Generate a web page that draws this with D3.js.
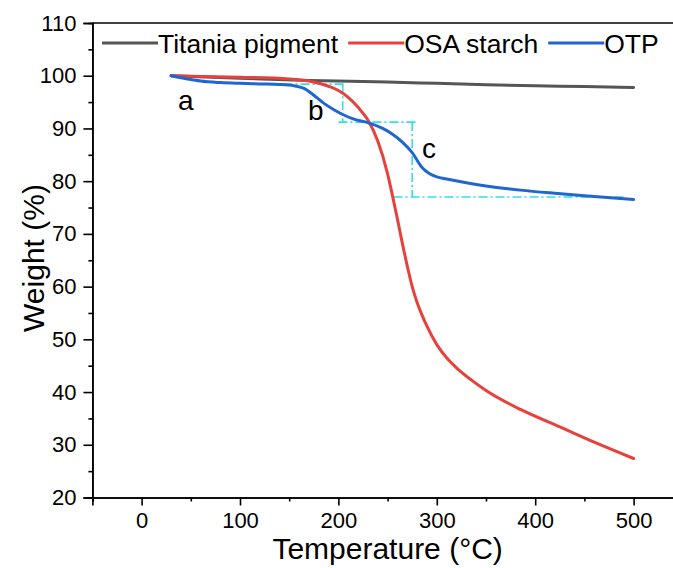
<!DOCTYPE html>
<html>
<head>
<meta charset="utf-8">
<script src="https://cdn.jsdelivr.net/npm/d3@7"></script>
<style>
  html, body { margin: 0; padding: 0; background: #fff; }
  svg { display: block; font-family: "Liberation Sans", Arial, sans-serif; }
</style>
</head>
<body>
<svg id="chart" width="673" height="568"></svg>
<script>
// ---- data ----
const seriesNames = ["Titania pigment", "OSA starch", "OTP"];
const seriesColors = ["#555555", "#e8403d", "#1f66d2"];

const titaniaT = [30, 100, 170, 250, 300, 350, 400, 450, 500];
const titaniaW = [100, 99.5, 99.1, 98.8, 98.55, 98.3, 98.1, 97.95, 97.75];

const osaT = [30, 50, 100, 150, 170, 190, 200, 210, 220, 230, 240, 250, 255, 260, 265, 270, 275, 280, 285, 290, 300, 310, 320, 335, 350, 385, 425, 460, 500];
const osaW = [100, 99.9, 99.7, 99.4, 99.0, 98.0, 97.2, 95.9, 94.0, 91.6, 87.6, 81.4, 77.2, 72.8, 68.2, 63.9, 60.0, 57.0, 54.6, 52.5, 49.0, 46.5, 44.6, 42.3, 40.3, 36.7, 33.4, 30.5, 27.4];

const otpT = [30, 40, 50, 60, 80, 100, 120, 140, 155, 165, 175, 185, 195, 205, 215, 230, 245, 255, 265, 275, 285, 292, 300, 310, 330, 350, 385, 420, 460, 500];
const otpW = [100, 99.6, 99.3, 99.0, 98.7, 98.55, 98.45, 98.35, 98.1, 97.6, 96.3, 94.8, 93.6, 92.6, 91.8, 91.1, 90.0, 88.9, 87.4, 85.4, 82.6, 81.5, 80.8, 80.4, 79.7, 79.1, 78.3, 77.7, 77.1, 76.5];

// annotation guide lines (dash-dot), in data units [T1, W1, T2, W2]
const guideSegments = [
  [127, 98.4, 208, 98.4],
  [204.4, 98.4, 204.4, 91.2],
  [200, 91.2, 281, 91.2],
  [275, 91.2, 275, 77.0],
  [256, 77.0, 490, 77.0]
];
const stepLabels = ["a", "b", "c"];
const stepLabelT = [37, 169, 285];
const stepLabelW = [93.5, 91.6, 84.4];

const xMajorTicks = [0, 100, 200, 300, 400, 500];
const xMinorTicks = [-50, 50, 150, 250, 350, 450, 550];
const yMajorTicks = [20, 30, 40, 50, 60, 70, 80, 90, 100, 110];
const yMinorTicks = [25, 35, 45, 55, 65, 75, 85, 95, 105];

// ---- layout ----
const svg = d3.select("#chart");
const mLeft = 92.4, mRight = 682.8, mTop = 23, mBottom = 497.5;
const x = d3.scaleLinear().domain([-50, 550]).range([mLeft, mRight]);
const y = d3.scaleLinear().domain([20, 110]).range([mBottom, mTop]);

// guides
const guideG = svg.append("g");
guideSegments.forEach(s => {
  guideG.append("line")
    .attr("x1", x(s[0])).attr("y1", y(s[1]))
    .attr("x2", x(s[2])).attr("y2", y(s[3]))
    .attr("stroke", "#2fe0e6").attr("stroke-width", 1.6)
    .attr("stroke-dasharray", "9,3,2,3");
});

// curves
const line = d3.line().x(d => x(d[0])).y(d => y(d[1])).curve(d3.curveMonotoneX);
const series = [
  titaniaT.map((t, i) => [t, titaniaW[i]]),
  osaT.map((t, i) => [t, osaW[i]]),
  otpT.map((t, i) => [t, otpW[i]])
];
series.forEach((pts, i) => {
  svg.append("path").datum(pts)
    .attr("d", line)
    .attr("fill", "none")
    .attr("stroke", seriesColors[i])
    .attr("stroke-width", 3)
    .attr("stroke-linejoin", "round")
    .attr("stroke-linecap", "round");
});

// axes
const tickFont = 22;
const xAxisMajor = svg.append("g").attr("transform", `translate(0,${mBottom})`)
  .call(d3.axisBottom(x).tickValues(xMajorTicks).tickSize(8).tickPadding(7).tickFormat(d3.format("d")));
const xAxisMinor = svg.append("g").attr("transform", `translate(0,${mBottom})`)
  .call(d3.axisBottom(x).tickValues(xMinorTicks).tickSize(4).tickFormat(""));
const yAxisMajor = svg.append("g").attr("transform", `translate(${mLeft},0)`)
  .call(d3.axisLeft(y).tickValues(yMajorTicks).tickSize(9).tickPadding(7).tickFormat(d3.format("d")));
const yAxisMinor = svg.append("g").attr("transform", `translate(${mLeft},0)`)
  .call(d3.axisLeft(y).tickValues(yMinorTicks).tickSize(4).tickFormat(""));

[xAxisMajor, xAxisMinor, yAxisMajor, yAxisMinor].forEach(g => {
  g.selectAll(".domain").attr("stroke", "#000").attr("stroke-width", 1.6);
  g.selectAll(".tick line").attr("stroke", "#000").attr("stroke-width", 1.6);
  g.selectAll("text").attr("font-size", tickFont).attr("fill", "#000")
    .attr("font-family", "\"Liberation Sans\", Arial, sans-serif");
});
// top frame line
svg.append("line").attr("x1", mLeft).attr("x2", mRight).attr("y1", mTop).attr("y2", mTop)
  .attr("stroke", "#000").attr("stroke-width", 1.6);

// axis titles
svg.append("text").attr("x", (x(0) + x(500)) / 2).attr("y", 559)
  .attr("text-anchor", "middle").attr("font-size", 30).attr("fill", "#000")
  .text("Temperature (°C)");
svg.append("text")
  .attr("transform", `translate(44,258) rotate(-90)`)
  .attr("text-anchor", "middle").attr("font-size", 30).attr("fill", "#000")
  .text("Weight (%)");

// step labels
stepLabels.forEach((s, i) => {
  svg.append("text").attr("x", x(stepLabelT[i])).attr("y", y(stepLabelW[i]))
    .attr("font-size", 28).attr("fill", "#000").text(s);
});

// legend
const legFont = 26.5;
let lx = 102;
const ly = 43;
seriesNames.forEach((name, i) => {
  svg.append("line").attr("x1", lx).attr("x2", lx + 56).attr("y1", ly).attr("y2", ly)
    .attr("stroke", seriesColors[i]).attr("stroke-width", 3);
  const t = svg.append("text").attr("x", lx + 56).attr("y", ly + 9.5)
    .attr("font-size", legFont).attr("fill", "#000").text(name);
  lx += 56 + t.node().getComputedTextLength() + 10;
});
</script>
</body>
</html>
